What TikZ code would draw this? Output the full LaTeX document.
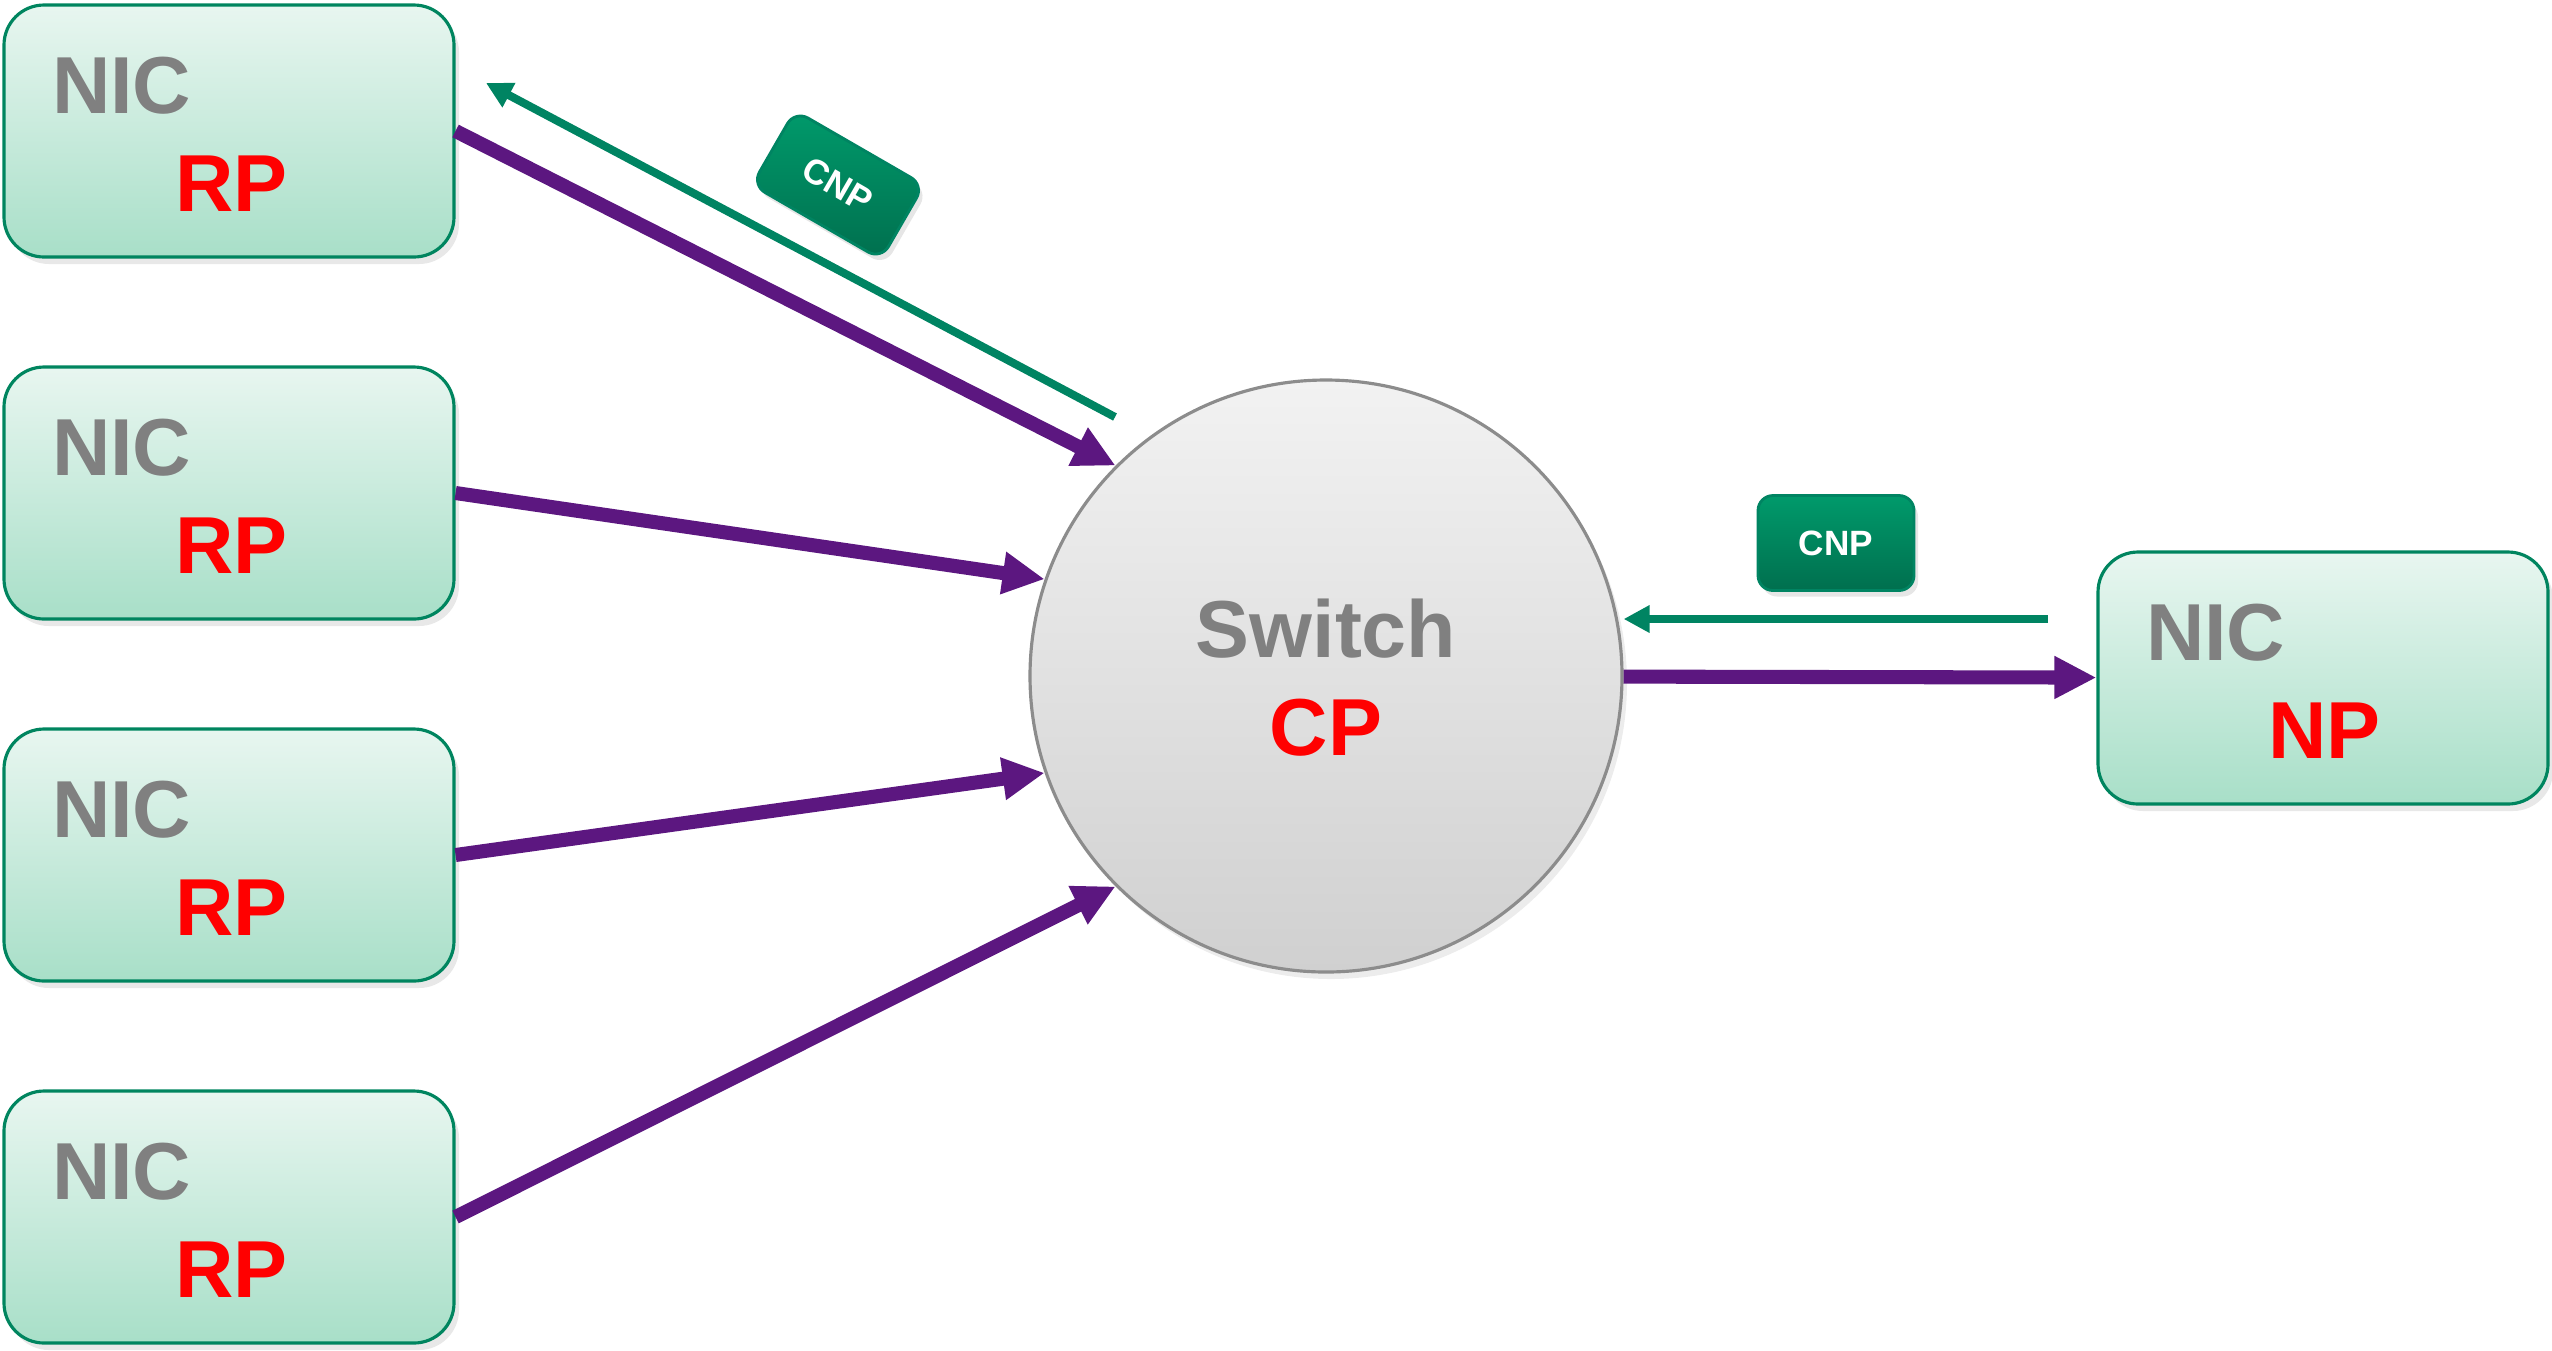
\documentclass[tikz,border=0pt]{standalone}
\usepackage{fontspec}
\setsansfont{Liberation Sans}
\usetikzlibrary{arrows.meta,positioning,shadows}
\definecolor{nicline}{HTML}{00855F}
\definecolor{nictop}{HTML}{E8F6F0}
\definecolor{nicbottom}{HTML}{A8DFC8}
\definecolor{swline}{HTML}{8C8C8C}
\definecolor{swtop}{HTML}{F2F2F2}
\definecolor{swbottom}{HTML}{D0D0D0}
\definecolor{labelgray}{HTML}{808080}
\definecolor{datapurple}{HTML}{5C1780}
\definecolor{cnpline}{HTML}{008462}
\definecolor{cnptop}{HTML}{009A6B}
\definecolor{cnpbottom}{HTML}{006F4E}

\begin{document}
\begin{tikzpicture}[>={Triangle[length=4.2mm,width=4mm]},node distance=3.62cm,
  nic/.style={rectangle,rounded corners=0.4cm,draw=nicline,line width=0.9pt,top color=nictop,bottom color=nicbottom,minimum width=4.5cm,minimum height=2.52cm,drop shadow={opacity=0.18,shadow xshift=0.05cm,shadow yshift=-0.07cm}},
  switch/.style={circle,draw=swline,line width=0.9pt,top color=swtop,bottom color=swbottom,minimum size=5.92cm,inner sep=0pt,drop shadow={opacity=0.15,shadow xshift=0.05cm,shadow yshift=-0.07cm}},
  name label/.style={inner sep=0pt,text=labelgray,font=\sffamily\bfseries\fontsize{23}{27}\selectfont},
  role label/.style={inner sep=0pt,text=red,font=\sffamily\bfseries\fontsize{23}{27}\selectfont},
  cnp tag/.style={rectangle,rounded corners=0.15cm,draw=cnpline,line width=0.8pt,top color=cnptop,bottom color=cnpbottom,text=white,font=\sffamily\bfseries\fontsize{10}{12}\selectfont,drop shadow={opacity=0.2,shadow xshift=0.04cm,shadow yshift=-0.06cm}},
  data arrow/.style={->,color=datapurple,line width=4pt},
  cnp arrow/.style={->,>={Triangle[length=2.6mm,width=2.6mm]},color=cnpline,line width=2.3pt}]

  \useasboundingbox (0,0) rectangle (25.52,-13.5);

  % NIC boxes
  \node[nic] (nic1) at (2.29,-1.31) {};
  \node[nic] (nic2) [below of = nic1] {};
  \node[nic] (nic3) [below of = nic2] {};
  \node[nic] (nic4) [below of = nic3] {};
  \node[nic] (nicnp) at (23.23,-6.78) {};

  \node[name label,anchor=base west] (nic1 name) at ([shift={(0.49,-1.10)}]nic1.north west) {NIC};
  \node[role label,anchor=base west] (nic1 role) at ([shift={(1.72,-2.08)}]nic1.north west) {RP};
  \node[name label,anchor=base west] (nic2 name) at ([shift={(0.49,-1.10)}]nic2.north west) {NIC};
  \node[role label,anchor=base west] (nic2 role) at ([shift={(1.72,-2.08)}]nic2.north west) {RP};
  \node[name label,anchor=base west] (nic3 name) at ([shift={(0.49,-1.10)}]nic3.north west) {NIC};
  \node[role label,anchor=base west] (nic3 role) at ([shift={(1.72,-2.08)}]nic3.north west) {RP};
  \node[name label,anchor=base west] (nic4 name) at ([shift={(0.49,-1.10)}]nic4.north west) {NIC};
  \node[role label,anchor=base west] (nic4 role) at ([shift={(1.72,-2.08)}]nic4.north west) {RP};
  \node[name label,anchor=base west] (nicnp name) at ([shift={(0.49,-1.10)}]nicnp.north west) {NIC};
  \node[role label,anchor=base west] (nicnp role) at ([shift={(1.71,-2.08)}]nicnp.north west) {NP};

  % switch
  \node[switch] (sw) at (13.26,-6.76) {};
  \node[name label,anchor=base] (sw name) at ([yshift=0.19cm]sw.center) {Switch};
  \node[role label,anchor=base] (sw role) at ([yshift=-0.79cm]sw.center) {CP};

  % CNP packets
  \node[cnp tag,rotate=-30,minimum width=1.49cm,minimum height=0.86cm] (cnp1) at (8.38,-1.85) {CNP};
  \node[cnp tag,minimum width=1.56cm,minimum height=0.95cm] (cnp2) at (18.36,-5.43) {CNP};

  \coordinate (cnp1 start) at (11.15,-4.17);
  \coordinate (cnp1 end) at (4.86,-0.83);
  \coordinate (cnp2 start) at (20.48,-6.19);

  \path[data arrow]
  (nic1.east) edge (sw.135.5)
  (nic2.east) edge (sw.161)
  (nic3.east) edge (sw.199)
  (nic4.east) edge (sw.225)
  (sw) edge (nicnp)
  ;

  \path[cnp arrow]
  (cnp1 start) edge (cnp1 end)
  (cnp2 start) edge (sw.east |- cnp2 start)
  ;
\end{tikzpicture}
\end{document}
